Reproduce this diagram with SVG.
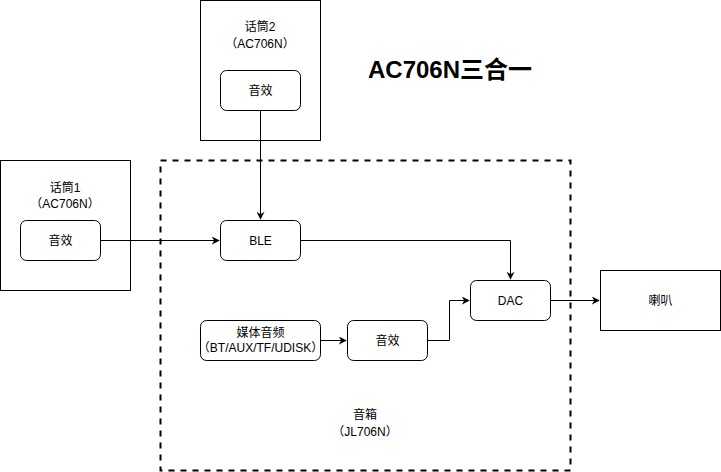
<svg xmlns="http://www.w3.org/2000/svg" width="721" height="472" viewBox="0 0 721 472">
<defs>
<style>
text{font-family:"Liberation Sans","Noto Sans CJK SC",Arial,sans-serif;font-size:12px;fill:#000;text-anchor:middle}
.box{fill:#fff;stroke:#000;stroke-width:1}
.rbox{fill:#fff;stroke:#000;stroke-width:1}
.edge{fill:none;stroke:#000;stroke-width:1}
.title{font-size:24px;font-weight:bold}
</style>
<marker id="arr" viewBox="0 0 10 10" refX="9" refY="5" markerWidth="8" markerHeight="8" markerUnits="userSpaceOnUse" orient="auto">
<path d="M0,0 L10,5 L0,10 L3,5 Z" fill="#000"/>
</marker>
</defs>
<rect width="721" height="472" fill="#fff"/>
<g id="speaker-box">
<rect x="160.5" y="160.5" width="410" height="310" fill="none" stroke="#000" stroke-width="2" stroke-dasharray="6 6"/>
<text x="365" y="419">音箱</text>
<text x="365" y="436">（JL706N）</text>
</g>
<g id="mic2">
<rect class="box" x="200.5" y="0.5" width="120" height="140"/>
<text x="260" y="31">话筒2</text>
<text x="260" y="48">（AC706N）</text>
</g>
<g id="mic2-fx">
<rect class="rbox" x="220.5" y="70.5" width="80" height="40" rx="6"/>
<text x="260.5" y="95">音效</text>
</g>
<g id="mic1">
<rect class="box" x="0.5" y="160.5" width="130" height="130"/>
<text x="65" y="192">话筒1</text>
<text x="65" y="208">（AC706N）</text>
</g>
<g id="mic1-fx">
<rect class="rbox" x="20.5" y="220.5" width="80" height="40" rx="6"/>
<text x="60.5" y="245">音效</text>
</g>
<g id="ble">
<rect class="rbox" x="220.5" y="220.5" width="80" height="40" rx="6"/>
<text x="260.5" y="245">BLE</text>
</g>
<g id="dac">
<rect class="rbox" x="470.5" y="280.5" width="80" height="40" rx="6"/>
<text x="510.5" y="305">DAC</text>
</g>
<g id="horn">
<rect class="box" x="600.5" y="270.5" width="120" height="60"/>
<text x="660.5" y="305">喇叭</text>
</g>
<g id="media">
<rect class="rbox" x="200.5" y="320.5" width="120" height="40" rx="6"/>
<text x="260.5" y="337">媒体音频</text>
<text x="260.5" y="352">（BT/AUX/TF/UDISK）</text>
</g>
<g id="media-fx">
<rect class="rbox" x="347.5" y="320.5" width="80" height="40" rx="6"/>
<text x="387.5" y="345">音效</text>
</g>
<g id="title">
<text class="title" x="450" y="78">AC706N三合一</text>
</g>
<g id="connectors">
<path class="edge" d="M260.5,110.5 V219" marker-end="url(#arr)"/>
<path class="edge" d="M100.5,240.5 H219" marker-end="url(#arr)"/>
<path class="edge" d="M300.5,240.5 H510.5 V279" marker-end="url(#arr)"/>
<path class="edge" d="M550.5,300.5 H599" marker-end="url(#arr)"/>
<path class="edge" d="M320.5,340.5 H346" marker-end="url(#arr)"/>
<path class="edge" d="M427.5,340.5 H449.5 V300.5 H469" marker-end="url(#arr)"/>
</g>
</svg>
